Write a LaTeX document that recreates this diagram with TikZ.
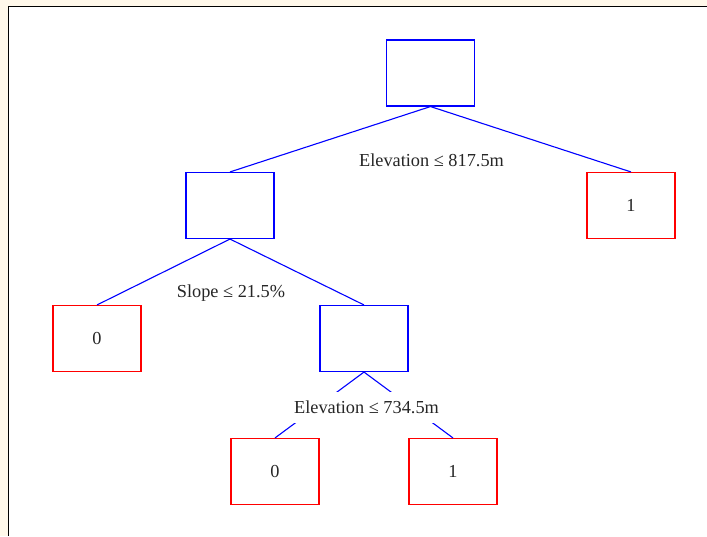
\documentclass[tikz,border=0pt]{standalone}
\usepackage{fontspec}
\setmainfont{Liberation Serif}
\definecolor{paper}{RGB}{255,248,234}
\begin{document}
\begin{tikzpicture}[x=1pt,y=-1pt,
  every node/.style={font=\fontsize{18.3}{21}\selectfont, text=black!85},
  splitbox/.style={draw=blue, line width=1.1pt, minimum width=88pt, minimum height=66pt, inner sep=0pt},
  leafbox/.style={draw=red, line width=1.1pt, minimum width=88pt, minimum height=66pt, inner sep=0pt},
  edge/.style={draw=blue, line width=1.1pt},
  rule/.style={inner sep=1pt},
  rulemask/.style={fill=white, inner xsep=3pt, inner ysep=0pt, minimum height=31pt}]
  % page with its frame
  \useasboundingbox (0,0) rectangle (707,536);
  \fill[paper] (0,0) rectangle (707,536);
  \fill[white] (8.5,6.5) rectangle (707,536);
  \draw[line width=1.6pt] (8.5,536) -- (8.5,6.5) -- (707,6.5);

  % tree nodes
  \node[splitbox] (root) at (430.5,73) {};
  \node[splitbox] (n1) at (230,205.5) {};
  \node[leafbox] (r1) at (631,205.5) {1};
  \node[leafbox] (l0) at (97,338.5) {0};
  \node[splitbox] (n2) at (364,338.5) {};
  \node[leafbox] (b0) at (275,471.5) {0};
  \node[leafbox] (b1) at (453,471.5) {1};

  % branches
  \draw[edge] (root.south) -- (n1.north);
  \draw[edge] (root.south) -- (r1.north);
  \draw[edge] (n1.south) -- (l0.north);
  \draw[edge] (n1.south) -- (n2.north);
  \draw[edge] (n2.south) -- (b0.north);
  \draw[edge] (n2.south) -- (b1.north);

  % split rules
  \node[rule] (t1) at (431.5,160) {Elevation ≤ 817.5m};
  \node[rule] (t2) at (231,293) {Slope ≤ 21.5\%};
  \node[rulemask] (t3) at (366.5,407) {Elevation ≤ 734.5m};
\end{tikzpicture}
\end{document}
